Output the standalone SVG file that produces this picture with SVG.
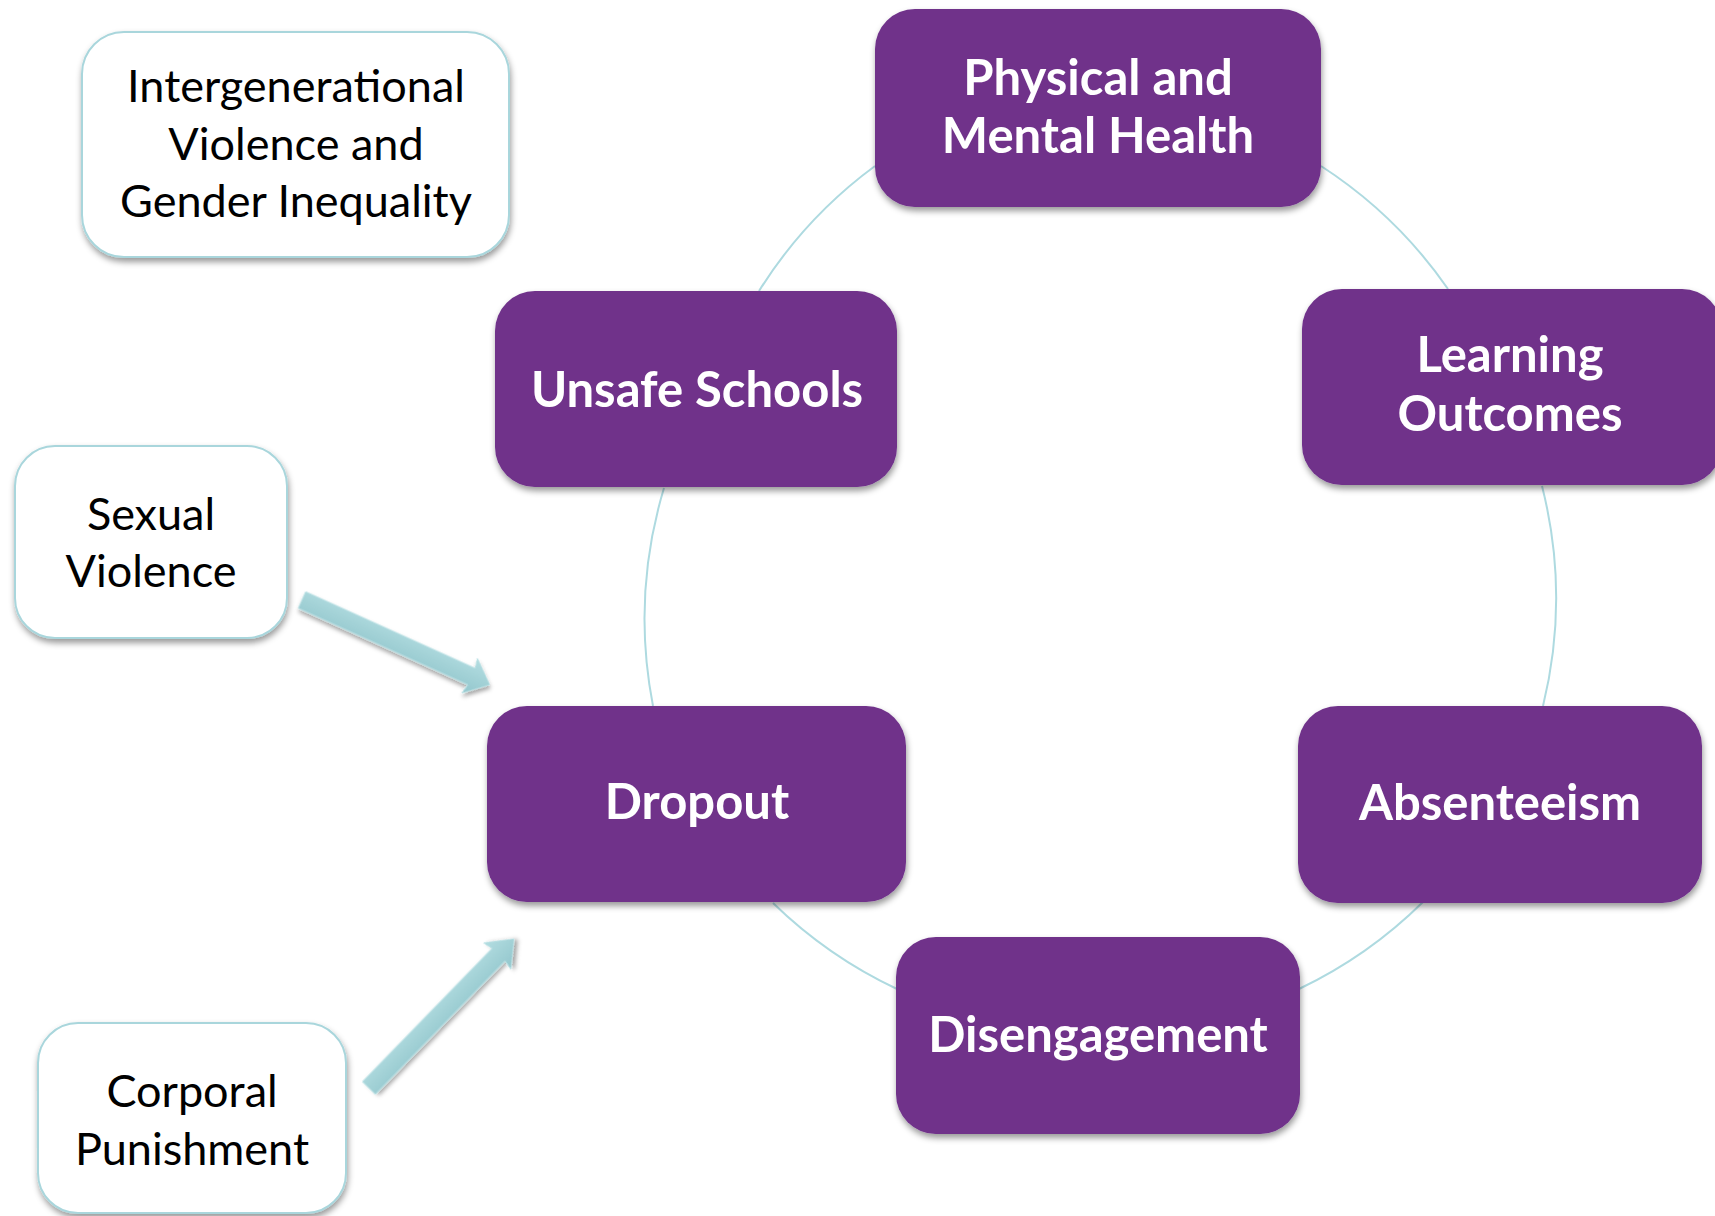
<svg xmlns="http://www.w3.org/2000/svg" width="1715" height="1216" viewBox="0 0 1715 1216">
<style>
.pbox{fill:#6F318A;filter:url(#sh)}
.wbox{fill:#FFFFFF;stroke:#A9D6DC;stroke-width:2;filter:url(#sh)}
.pt{font-family:Lato,"Noto Sans",sans-serif;font-weight:bold;font-size:49px;fill:#FFFFFF;text-anchor:middle}
.wt{font-family:Lato,"Noto Sans",sans-serif;font-size:45px;fill:#000000;text-anchor:middle}
.ring{fill:none;stroke:#AEDAE0;stroke-width:2}
.barrow{fill:url(#ag);stroke:#B9E0E4;stroke-width:1;filter:url(#ash)}
</style>
<defs>
<filter id="sh" x="-10%" y="-10%" width="120%" height="130%">
<feDropShadow dx="1" dy="4" stdDeviation="3" flood-color="#000" flood-opacity="0.4"/>
</filter>
<filter id="ash" x="-20%" y="-20%" width="140%" height="140%">
<feDropShadow dx="2" dy="3" stdDeviation="2" flood-color="#000" flood-opacity="0.35"/>
</filter>
<linearGradient id="ag" x1="0" y1="0" x2="0" y2="1">
<stop offset="0" stop-color="#B3DDE1"/>
<stop offset="1" stop-color="#92C6CC"/>
</linearGradient>
</defs>
<rect width="1715" height="1216" fill="#FFFFFF"/>
<g id="connectors">
<path class="ring" d="M875,166 A455,455 0 0 0 759,291"/>
<path class="ring" d="M664,488 A455,455 0 0 0 653,706"/>
<path class="ring" d="M773,903 A455,455 0 0 0 897,989"/>
<path class="ring" d="M1299,989 A455,455 0 0 0 1423,902"/>
<path class="ring" d="M1543,706 A455,455 0 0 0 1542,486"/>
<path class="ring" d="M1448,289 A455,455 0 0 0 1321,166"/>
<path class="barrow" transform="translate(302,600) rotate(24.3)" d="M0,-9 L186,-9 L184,-19 L206,0 L184,19 L186,9 L0,9 Z"/>
<path class="barrow" transform="translate(369,1088) rotate(-45.8)" d="M0,-9 L186,-9 L184,-19 L208,0 L184,19 L186,9 L0,9 Z"/>
</g>
<g id="node-intergenerational">
<rect class="wbox" x="82" y="32" width="427" height="225" rx="42"/>
<text class="wt" x="296" y="102">Intergenerational</text>
<text class="wt" x="296" y="160">Violence and</text>
<text class="wt" x="296" y="217">Gender Inequality</text>
</g>
<g id="node-sexual-violence">
<rect class="wbox" x="15" y="446" width="272" height="192" rx="40"/>
<text class="wt" x="151" y="530">Sexual</text>
<text class="wt" x="151" y="587">Violence</text>
</g>
<g id="node-corporal-punishment">
<rect class="wbox" x="38" y="1023" width="308" height="190" rx="40"/>
<text class="wt" x="192" y="1107">Corporal</text>
<text class="wt" x="192" y="1165">Punishment</text>
</g>
<g id="node-physical-mental-health">
<rect class="pbox" x="875" y="9" width="446" height="198" rx="40"/>
<text class="pt" x="1098" y="95">Physical and</text>
<text class="pt" x="1098" y="153">Mental Health</text>
</g>
<g id="node-unsafe-schools">
<rect class="pbox" x="495" y="291" width="402" height="196" rx="40"/>
<text class="pt" x="697" y="407">Unsafe Schools</text>
</g>
<g id="node-learning-outcomes">
<rect class="pbox" x="1302" y="289" width="420" height="196" rx="40"/>
<text class="pt" x="1510" y="372">Learning</text>
<text class="pt" x="1510" y="431">Outcomes</text>
</g>
<g id="node-dropout">
<rect class="pbox" x="487" y="706" width="419" height="196" rx="40"/>
<text class="pt" x="697" y="819">Dropout</text>
</g>
<g id="node-absenteeism">
<rect class="pbox" x="1298" y="706" width="404" height="197" rx="40"/>
<text class="pt" x="1500" y="820">Absenteeism</text>
</g>
<g id="node-disengagement">
<rect class="pbox" x="896" y="937" width="404" height="197" rx="40"/>
<text class="pt" x="1098" y="1052">Disengagement</text>
</g>
</svg>
